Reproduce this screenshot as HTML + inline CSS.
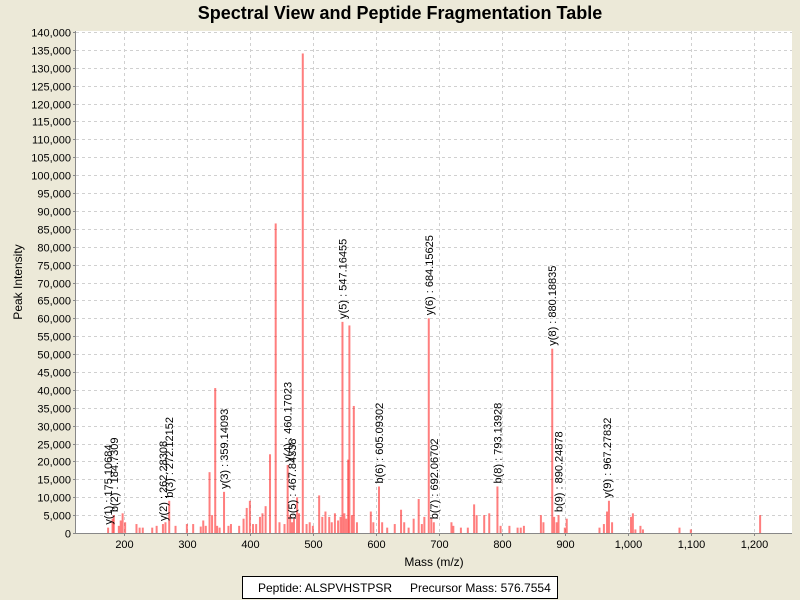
<!DOCTYPE html>
<html><head><meta charset="utf-8"><style>
body{margin:0;background:#ece9d8;font-family:"Liberation Sans",sans-serif;}
svg{display:block}
</style></head><body>
<svg id="c" width="800" height="600">
<rect x="0" y="0" width="800" height="600" fill="#ece9d8"/>
<text x="400" y="19" text-anchor="middle" font-size="18" font-weight="bold" fill="#000">Spectral View and Peptide Fragmentation Table</text>
<rect x="76" y="31" width="716" height="502" fill="#fff"/>
<g id="grid"></g><g id="bars"></g><g id="labels"></g><g id="axes"></g>
<text x="434" y="566" text-anchor="middle" font-size="12">Mass (m/z)</text>
<text transform="translate(22,282) rotate(-90)" text-anchor="middle" font-size="12">Peak Intensity</text>
<g>
<rect x="242.5" y="576.5" width="315" height="22" fill="#fff" stroke="#000"/>
<text x="258" y="592" font-size="12">Peptide: ALSPVHSTPSR</text>
<text x="410" y="592" font-size="12">Precursor Mass: 576.7554</text>
</g>
</svg>
<script>
const peakMz=[175,182,184,192,195,198,202,220,225,230,245,252,262,266,272,282,300,310,322,326,330,336,340,345,348,352,359,366,370,383,390,395,400,405,410,416,420,425,432,441,447,455,460,464,467,470,475,478,484,490,495,500,510,515,520,526,530,535,540,544,547,550,553,556,558,562,565,570,592,596,605,610,618,630,640,645,652,660,668,673,677,684,688,692,720,723,735,746,756,760,772,780,793,798,812,825,830,835,862,866,880,883,887,890,900,903,955,962,967,970,975,1005,1008,1012,1020,1024,1082,1100,1210];
const peakInt=[1.5,4,5,2,3.5,5.5,3,2.5,1.5,1.5,1.5,2,2.5,3,9,2,2.5,2.5,1.8,3.5,2,17,5,40.5,2,1.5,11.5,2,2.5,2,4,7,9,2.5,2.5,4.5,5.5,7.5,22,86.5,3,2.5,19,5,3,4,10,5.5,134,2.5,3,2,10.5,4.5,6,4.5,3,5.5,3.5,4.5,59,5.5,4,20.5,58,5,35.5,3,6,3,13,3,1.5,2.5,6.5,3,1.5,4,9.5,2.5,4.5,60,4,3,3,2,1.5,1.5,8,5,5,5.5,13,2,2,1.5,1.5,2,5,3,51.5,4.5,3,5,1.5,4,1.5,2.5,6,9,3,4.5,5.5,1,2,1,1.5,1,5];
const annLabels=["y(1) : 175.10684","b(2) : 184.7309","y(2) : 262.28308","b(3) : 272.12152","y(3) : 359.14093","y(4) : 460.17023","b(5) : 467.84338","y(5) : 547.16455","b(6) : 605.09302","y(6) : 684.15625","b(7) : 692.06702","b(8) : 793.13928","y(8) : 880.18835","b(9) : 890.24878","y(9) : 967.27832"];
const annMz=[175,184,262,272,359,460,467,547,605,684,692,793,880,890,967];
const annInt=[1.5,5,2.5,9,11.5,19,3,59,13,60,3,13,51.5,5,9];
const xTicks=[200,300,400,500,600,700,800,900,1000,1100,1200];
const yTicks=[0,5,10,15,20,25,30,35,40,45,50,55,60,65,70,75,80,85,90,95,100,105,110,115,120,125,130,135,140];
const NS="http://www.w3.org/2000/svg";
const X0=76,X1=792,Y0=533,Y1=32,M0=124,M1=1260.6,I1=140;
const xs=m=>X0+(m-M0)/(M1-M0)*(X1-X0);
const ys=v=>Y0-v/I1*(Y0-Y1);
function mk(t,a,p){const e=document.createElementNS(NS,t);for(const k in a)e.setAttribute(k,a[k]);p.appendChild(e);return e;}
const grid=document.getElementById('grid'),bars=document.getElementById('bars'),labels=document.getElementById('labels'),axes=document.getElementById('axes');
yTicks.forEach(v=>{const y=Math.round(ys(v))+0.5;
 if(v>0){const g=mk('line',{x1:X0,x2:X1,y1:y,y2:y,stroke:'#d0d0d0','stroke-dasharray':'3,3'},grid);}
 mk('line',{x1:X0-3,x2:X0,y1:y,y2:y,stroke:'#888'},axes);
 const t=mk('text',{x:X0-5,y:y+4,'text-anchor':'end','font-size':11},axes);t.textContent=(v*1000).toLocaleString('en-US');
 });
xTicks.forEach(m=>{const x=Math.round(xs(m))+0.5;
 const g=mk('line',{x1:x,x2:x,y1:Y1-1,y2:Y0,stroke:'#d0d0d0','stroke-dasharray':'3,3'},grid);
 mk('line',{x1:x,x2:x,y1:Y0,y2:Y0+3,stroke:'#888'},axes);
 const t=mk('text',{x:x,y:Y0+15,'text-anchor':'middle','font-size':11},axes);t.textContent=m.toLocaleString('en-US');
 });
mk('line',{x1:X0-0.5,x2:X0-0.5,y1:31,y2:Y0,stroke:'#888'},axes);
mk('line',{x1:X0,x2:X1,y1:Y0+0.5,y2:Y0+0.5,stroke:'#888'},axes);
peakMz.forEach((m,i)=>{const x=xs(m);
 const r=mk('rect',{x:x-1,y:ys(peakInt[i]),width:2,height:Y0-ys(peakInt[i]),fill:'rgba(255,40,40,0.6)'},bars);
 });
annMz.forEach((m,i)=>{const x=xs(m)+4,y=ys(annInt[i])-3;
 const t=mk('text',{transform:`translate(${x},${y}) rotate(-90)`,'font-size':11,fill:'#000'},labels);t.textContent=annLabels[i];
 });
</script>
</body></html>
